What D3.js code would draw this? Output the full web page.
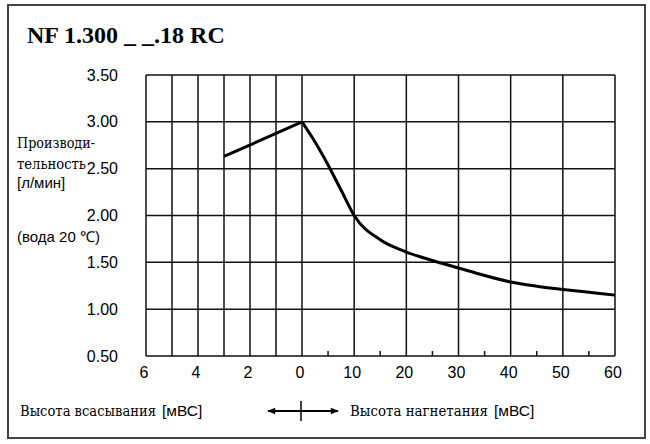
<!DOCTYPE html>
<html><head><meta charset="utf-8">
<script src="https://cdn.jsdelivr.net/npm/d3@7"></script>
<style>
html,body{margin:0;padding:0;background:#fff;}
svg{display:block;}
</style></head>
<body>
<svg id="chart" width="650" height="444"></svg>
<script>
// ---- data ----
const title = "NF 1.300 _ _.18 RC";
// suction head (m) plotted to the left of 0 (negative = suction)
const suctionX = [-3, 0];
const suctionY = [2.63, 3.00];
// discharge head (m)
const dischargeX = [0, 2, 5, 7.5, 10, 15, 20, 25, 30, 35, 40, 45, 50, 55, 60];
const dischargeY = [3.00, 2.83, 2.54, 2.27, 2.00, 1.74, 1.61, 1.52, 1.44, 1.36, 1.29, 1.245, 1.21, 1.18, 1.15];
const yTicks = [0.5, 1.0, 1.5, 2.0, 2.5, 3.0, 3.5];
const xLabelTicks = [-6, -4, -2, 0, 10, 20, 30, 40, 50, 60];
const xGridTicks = [-6, -5, -4, -3, -2, -1, 0, 10, 20, 30, 40, 50, 60];
const xMinorTicks = [5, 15, 25, 35, 45, 55];

const SERIF = "'Liberation Serif', 'Times New Roman', serif";
const CYR_SERIF = "'DejaVu Serif Condensed', 'DejaVu Serif', serif";
const SANS = "'Liberation Sans', Arial, sans-serif";

const svg = d3.select("#chart");

// outer frame
svg.append("rect").attr("x", 8).attr("y", 5).attr("width", 637).attr("height", 433)
  .attr("fill", "none").attr("stroke", "#444").attr("stroke-width", 2);

svg.append("text").attr("font-family", SERIF).attr("x", 27).attr("y", 43)
  .attr("font-size", 24).attr("font-weight", "bold").attr("fill", "#000").text(title);

const x = d3.scaleLinear().domain([-6, 0, 60]).range([146, 302, 615]);
const y = d3.scaleLinear().domain([0.5, 3.5]).range([356, 75]);

const g = svg.append("g");

// horizontal grid
g.selectAll("line.h").data(yTicks).join("line")
  .attr("x1", x(-6)).attr("x2", x(60))
  .attr("y1", d => y(d)).attr("y2", d => y(d))
  .attr("stroke", "#111").attr("stroke-width", 1.5);
// vertical grid
g.selectAll("line.v").data(xGridTicks).join("line")
  .attr("x1", d => x(d)).attr("x2", d => x(d))
  .attr("y1", y(3.5)).attr("y2", y(0.5))
  .attr("stroke", "#111").attr("stroke-width", 1.5);
// minor ticks
g.selectAll("line.m").data(xMinorTicks).join("line")
  .attr("x1", d => x(d)).attr("x2", d => x(d))
  .attr("y1", y(0.5) - 5).attr("y2", y(0.5))
  .attr("stroke", "#111").attr("stroke-width", 1.5);

// y labels
svg.selectAll("text.yl").data(yTicks).join("text")
  .attr("font-family", SANS).attr("x", 118).attr("y", d => y(d))
  .attr("dy", "0.35em").attr("text-anchor", "end").attr("font-size", 16)
  .attr("fill", "#000").text(d => d.toFixed(2));

// x labels
svg.selectAll("text.xl").data(xLabelTicks).join("text")
  .attr("font-family", SANS).attr("x", d => x(d) - 2).attr("y", 378)
  .attr("text-anchor", "middle").attr("font-size", 16)
  .attr("fill", "#000").text(d => Math.abs(d));

// curves
const line = d3.line().x(d => x(d[0])).y(d => y(d[1]));
svg.append("path").datum(d3.zip(suctionX, suctionY))
  .attr("d", line.curve(d3.curveLinear)).attr("fill", "none")
  .attr("stroke", "#000").attr("stroke-width", 3);
svg.append("path").datum(d3.zip(dischargeX, dischargeY))
  .attr("d", d3.line().x(d => x(d[0])).y(d => y(d[1])).curve(d3.curveMonotoneX))
  .attr("fill", "none").attr("stroke", "#000").attr("stroke-width", 3);

// y axis title
svg.append("text").attr("font-family", CYR_SERIF).attr("x", 17).attr("y", 148)
  .attr("font-size", 14).attr("textLength", 78).attr("lengthAdjust", "spacingAndGlyphs").text("Производи-");
svg.append("text").attr("font-family", CYR_SERIF).attr("x", 17).attr("y", 169)
  .attr("font-size", 14).attr("textLength", 69).attr("lengthAdjust", "spacingAndGlyphs").text("тельность");
svg.append("text").attr("font-family", SANS).attr("x", 17).attr("y", 188)
  .attr("font-size", 15).text("[л/мин]");
svg.append("text").attr("font-family", SANS).attr("x", 17).attr("y", 242)
  .attr("font-size", 15).text("(вода 20 ℃)");

// bottom labels
svg.append("text").attr("font-family", CYR_SERIF).attr("x", 20).attr("y", 416).attr("font-size", 14.5)
  .attr("textLength", 136).attr("lengthAdjust", "spacingAndGlyphs").text("Высота всасывания");
svg.append("text").attr("font-family", SANS).attr("x", 162).attr("y", 416).attr("font-size", 15.5).text("[мВС]");
svg.append("text").attr("font-family", CYR_SERIF).attr("x", 350).attr("y", 416).attr("font-size", 14.5)
  .attr("textLength", 138).attr("lengthAdjust", "spacingAndGlyphs").text("Высота нагнетания");
svg.append("text").attr("font-family", SANS).attr("x", 494).attr("y", 416).attr("font-size", 15.5).text("[мВС]");

// arrows
const defs = svg.append("defs");
defs.append("marker").attr("id", "ah").attr("viewBox", "0 0 10 10")
  .attr("refX", 9).attr("refY", 5).attr("markerWidth", 5).attr("markerHeight", 4)
  .attr("orient", "auto-start-reverse")
  .append("path").attr("d", "M0,1 L10,5 L0,9 Z").attr("fill", "#000");
svg.append("line").attr("x1", 301).attr("x2", 268).attr("y1", 411).attr("y2", 411)
  .attr("stroke", "#000").attr("stroke-width", 2).attr("marker-end", "url(#ah)");
svg.append("line").attr("x1", 301).attr("x2", 338).attr("y1", 411).attr("y2", 411)
  .attr("stroke", "#000").attr("stroke-width", 2).attr("marker-end", "url(#ah)");
svg.append("line").attr("x1", 301).attr("x2", 301).attr("y1", 401).attr("y2", 421)
  .attr("stroke", "#000").attr("stroke-width", 1.5);
</script>
</body></html>
